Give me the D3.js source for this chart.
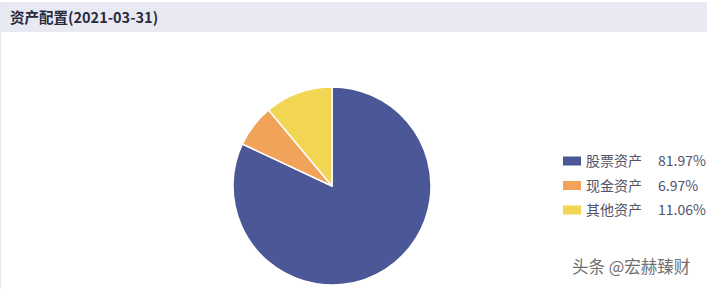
<!DOCTYPE html>
<html>
<head>
<meta charset="utf-8">
<script src="https://cdn.jsdelivr.net/npm/d3@7"></script>
<style>
  body { margin: 0; background: #fff; }
  text { font-family: "Noto Sans CJK SC", "Noto Sans", sans-serif; }
</style>
</head>
<body>
<div id="chart"></div>
<script>
// data
var categories = ["股票资产", "现金资产", "其他资产"];
var shares = [81.97, 6.97, 11.06];
var shareLabels = ["81.97%", "6.97%", "11.06%"];
var colors = ["#4b5796", "#f2a35a", "#f2d552"];

var W = 708, H = 289;

var svg = d3.select("#chart")
  .append("svg")
    .attr("width", W)
    .attr("height", H);

// header band
svg.append("rect")
    .attr("x", 0).attr("y", 2)
    .attr("width", W - 1).attr("height", 30)
    .attr("fill", "#e9e9f4");
// thin left border
svg.append("rect")
    .attr("x", 0).attr("y", 2)
    .attr("width", 1).attr("height", H - 2)
    .attr("fill", "#e6e6f0");

svg.append("text")
    .attr("x", 10)
    .attr("y", 23)
    .attr("font-size", "14.5px")
    .attr("font-weight", "bold")
    .attr("fill", "#2a2a3c")
    .text("资产配置(2021-03-31)");

var data = categories.map(function(c, i) { return { name: c, value: shares[i], label: shareLabels[i] }; });

var color = d3.scaleOrdinal()
    .domain(categories)
    .range(colors);

// pie
var pie = d3.pie()
    .sort(null)
    .value(function(d) { return d.value; });

var arc = d3.arc()
    .innerRadius(0)
    .outerRadius(99);

var g = svg.append("g")
    .attr("transform", "translate(332,186)");

g.selectAll("path")
  .data(pie(data))
  .enter()
  .append("path")
    .attr("d", arc)
    .attr("fill", function(d) { return color(d.data.name); })
    .attr("stroke", "#fff")
    .attr("stroke-width", 1.5)
    .attr("stroke-linejoin", "round");

// legend
var rowY = d3.scalePoint()
    .domain(categories)
    .range([161, 210]);

var legend = svg.selectAll("g.legend")
  .data(data)
  .enter()
  .append("g")
    .attr("class", "legend")
    .attr("transform", function(d) { return "translate(0," + rowY(d.name) + ")"; });

legend.append("rect")
    .attr("x", 563)
    .attr("y", -4.5)
    .attr("width", 18)
    .attr("height", 9)
    .attr("fill", function(d) { return color(d.name); });

legend.append("text")
    .attr("x", 586)
    .attr("y", 0)
    .attr("dy", "0.36em")
    .attr("font-size", "14px")
    .attr("fill", "#52526a")
    .text(function(d) { return d.name; });

legend.append("text")
    .attr("x", 658)
    .attr("y", 0)
    .attr("dy", "0.36em")
    .attr("font-size", "14px")
    .attr("fill", "#52526a")
    .text(function(d) { return d.label; });

// watermark
svg.append("text")
    .attr("x", 572)
    .attr("y", 273)
    .attr("font-size", "16.5px")
    .attr("fill", "#707070")
    .attr("stroke", "#ffffff")
    .attr("stroke-width", 0.6)
    .attr("paint-order", "stroke")
    .text("头条 @宏赫臻财");
</script>
</body>
</html>
